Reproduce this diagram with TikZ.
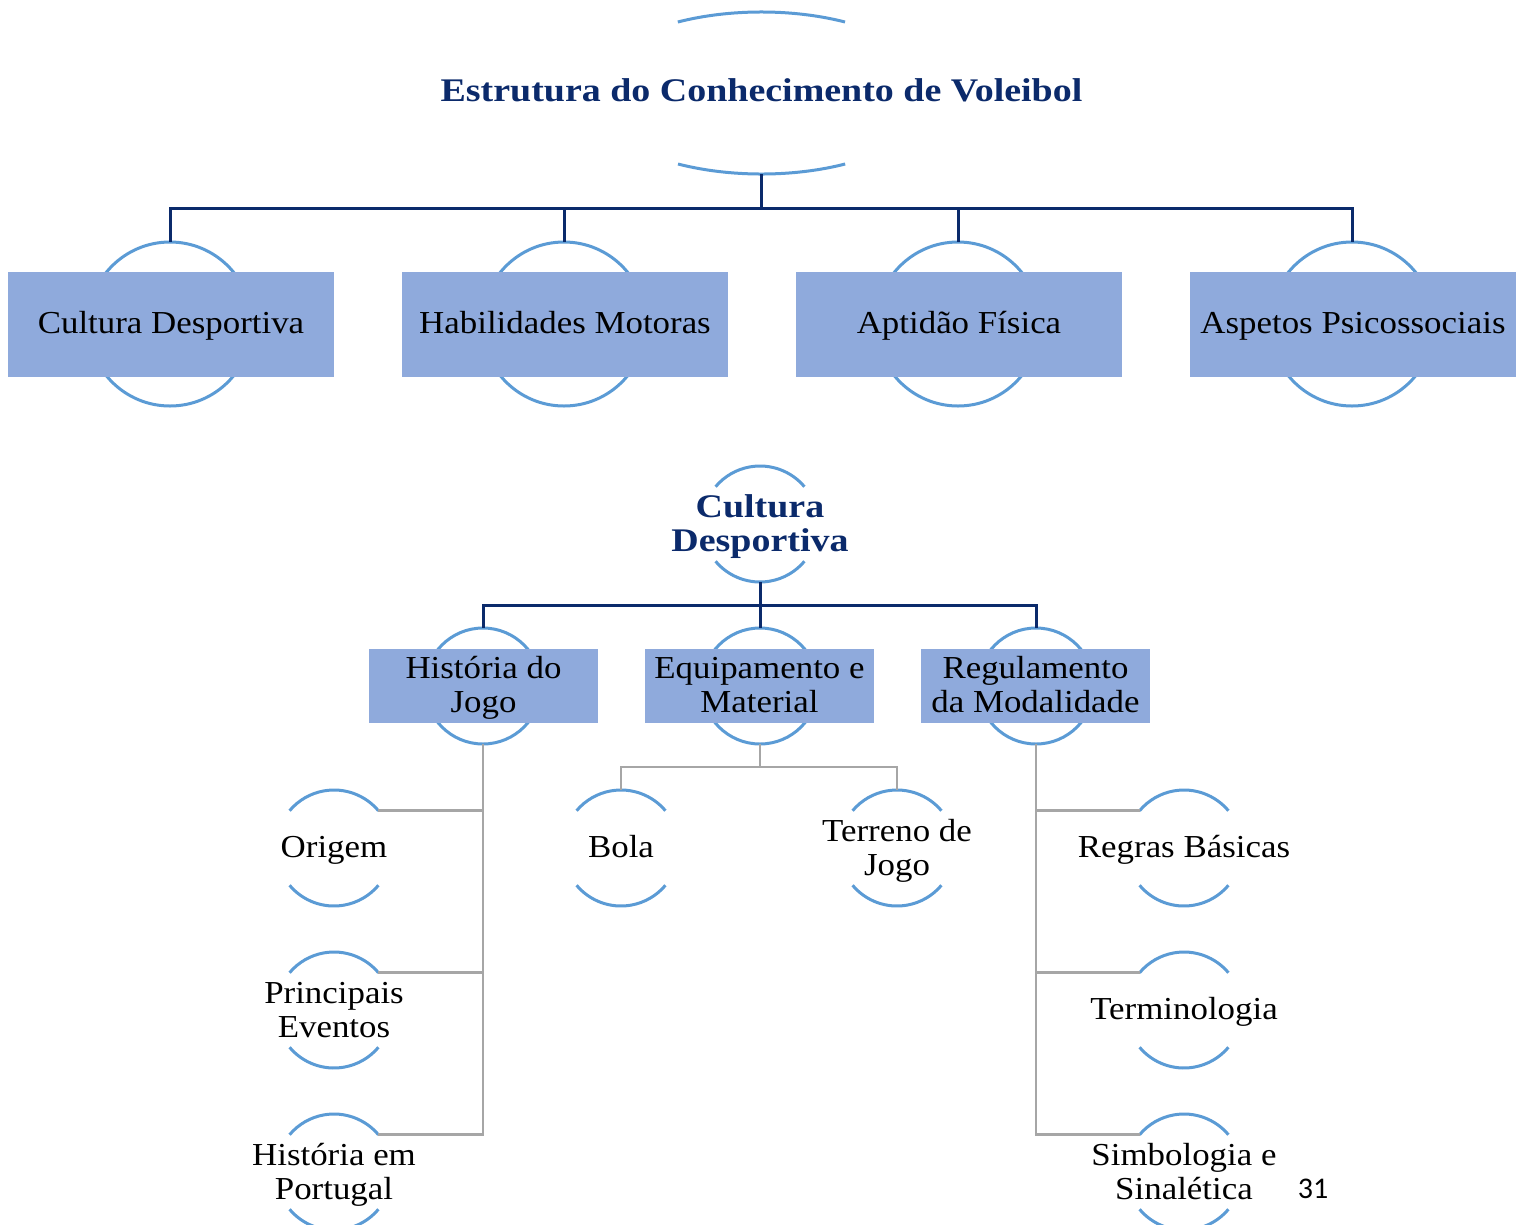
\documentclass[tikz,border=0pt]{standalone}
\usepackage{fontspec}
\setmainfont{Liberation Serif}[FakeStretch=1.09]
\newfontfamily\titlefont{Liberation Serif}[FakeStretch=1.15]
\newfontfamily\pagefont{Carlito}
\usetikzlibrary{shapes.geometric,calc}
\definecolor{navy}{HTML}{0B2A6B}
\definecolor{ringblue}{HTML}{5B9BD5}
\definecolor{boxblue}{HTML}{8FAADC}
\definecolor{linegray}{HTML}{A6A6A6}
\newcommand\gaparcs[2]{%
  \draw[ring] (#1.40) arc[start angle=40,end angle=140,radius=#2];
  \draw[ring] (#1.220) arc[start angle=220,end angle=320,radius=#2];}
\begin{document}
\begin{tikzpicture}[x=1pt,y=1pt,
  ring/.style={draw=ringblue,line width=3pt},
  navyline/.style={draw=navy,line width=3pt},
  grayline/.style={draw=linegray,line width=2.6pt},
  circ/.style={circle,minimum size=#1,inner sep=0pt,outer sep=0pt},
  lbox/.style={fill=boxblue,minimum width=326pt,minimum height=105pt,inner sep=0pt},
  mbox/.style={fill=boxblue,minimum width=229pt,minimum height=74pt,inner sep=0pt},
  txt/.style={align=center,inner sep=0pt,font=\fontsize{32}{34}\selectfont},
  boldtxt/.style={align=center,inner sep=0pt,text=navy,font=\titlefont\bfseries\fontsize{33}{34}\selectfont},
]
\clip (0,0) rectangle (1521,-1224);
\fill[white] (0,0) rectangle (1521,-1224);

% ---------- title ----------
\node[ellipse,minimum width=347pt,minimum height=162pt,inner sep=0pt,outer sep=0pt] (T) at (761.5,-93) {};
\node[boldtxt,anchor=base] (Tt) at (761.5,-101.5) {Estrutura do Conhecimento de Voleibol};
\draw[ring] ($(T.center)+(83.5,71)$) arc[start angle=61.2,end angle=118.8,x radius=173.5,y radius=81];
\draw[ring] ($(T.center)+(-83.5,-71)$) arc[start angle=241.2,end angle=298.8,x radius=173.5,y radius=81];

% ---------- level 1 ----------
\foreach \n/\x/\lab in {A/170/Cultura Desportiva, B/564/Habilidades Motoras, C/958/Aptidão Física, D/1352/Aspetos Psicossociais} {
  \node[circ=164pt,ring] (\n C) at (\x,-324) {};
  \node[lbox] (\n B) at (\x+1,-324.5) {};
  \node[txt,anchor=base] (\n) at (\x+1,-333) {\lab};
  \draw[navyline] (T.south) -- ++(0,-34) -| (\n C.north);
}

% ---------- Cultura Desportiva subtree ----------
\node[circ=116pt] (CDc) at (760,-524) {};
\gaparcs{CDc}{58}
\node[boldtxt] (CD) at (760,-527.5) {Cultura\strut\\Desportiva\strut};

\node[circ=116pt,ring] (HC) at (483,-686) {};
\node[mbox] (HB) at (483.5,-686) {};
\node[txt] (H) at (483.5,-689) {História do\strut\\Jogo\strut};
\node[circ=116pt,ring] (EC) at (760,-686) {};
\node[mbox] (EB) at (759.5,-686) {};
\node[txt] (E) at (759.5,-689) {Equipamento e\strut\\Material\strut};
\node[circ=116pt,ring] (RC) at (1036,-686) {};
\node[mbox] (RB) at (1035.5,-686) {};
\node[txt] (R) at (1035.5,-689) {Regulamento\strut\\da Modalidade\strut};

\draw[navyline] (CDc.south) -- ++(0,-23) -| (HC.north);
\draw[navyline] (CDc.south) -- ++(0,-23) -| (EC.north);
\draw[navyline] (CDc.south) -- ++(0,-23) -| (RC.north);

% ---------- level 3 ----------
\node[circ=116pt] (OC) at (334,-848) {};
\node[circ=116pt] (PC) at (334,-1010) {};
\node[circ=116pt] (PtC) at (334,-1172) {};
\node[circ=116pt] (BC) at (621,-848) {};
\node[circ=116pt] (TjC) at (897,-848) {};
\node[circ=116pt] (RbC) at (1184,-848) {};
\node[circ=116pt] (TmC) at (1184,-1010) {};
\node[circ=116pt] (SC) at (1184,-1172) {};
\foreach \c in {OC,PC,PtC,BC,TjC,RbC,TmC,SC} {\gaparcs{\c}{58}}

\node[txt,anchor=base] (O) at (334,-857.5) {Origem};
\node[txt] (P) at (334,-1013.5) {Principais\strut\\Eventos\strut};
\node[txt] (Pt) at (334,-1176) {História em\strut\\Portugal\strut};
\node[txt,anchor=base] (B) at (621,-857.5) {Bola};
\node[txt] (Tj) at (897,-852) {Terreno de\strut\\Jogo\strut};
\node[txt,anchor=base] (Rb) at (1184,-857.5) {Regras Básicas};
\node[txt,anchor=base] (Tm) at (1184,-1019.5) {Terminologia};
\node[txt] (S) at (1184,-1176) {Simbologia e\strut\\Sinalética\strut};

\draw[grayline] (HC.south) |- (OC.40);
\draw[grayline] (HC.south) |- (PC.40);
\draw[grayline] (HC.south) |- (PtC.40);
\draw[grayline] (EC.south) -- ++(0,-23) -| (BC.north);
\draw[grayline] (EC.south) -- ++(0,-23) -| (TjC.north);
\draw[grayline] (RC.south) |- (RbC.140);
\draw[grayline] (RC.south) |- (TmC.140);
\draw[grayline] (RC.south) |- (SC.140);

\node[font=\pagefont\fontsize{30}{32}\selectfont,inner sep=0pt,anchor=base] (pg) at (1313,-1198) {31};
\end{tikzpicture}
\end{document}
